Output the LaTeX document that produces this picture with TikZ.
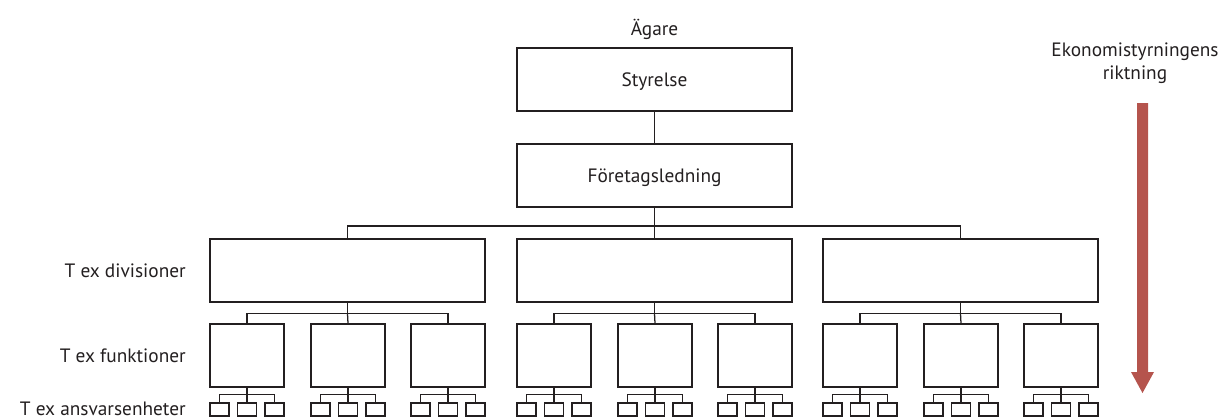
\documentclass[tikz,border=0pt]{standalone}
\usepackage{fontspec}
\setmainfont{PT Sans}
\usetikzlibrary{calc}
\definecolor{arrowred}{HTML}{B5544D}
\definecolor{ink}{HTML}{231F20}
\tikzset{
  lbl/.style={font=\fontsize{14.5pt}{17pt}\selectfont, text=ink, inner sep=0pt},
  bigbox/.style={draw=ink, line width=0.95pt, minimum width=206.25pt, minimum height=47.25pt, inner sep=0pt, text depth=0pt, font=\fontsize{14.5pt}{17pt}\selectfont, text=ink},
  funcbox/.style={draw=ink, line width=0.95pt, minimum width=55.5pt, minimum height=47.25pt, inner sep=0pt},
  smallbox/.style={draw=ink, line width=0.95pt, minimum width=14.25pt, minimum height=9.75pt, inner sep=0pt},
  conn/.style={draw=ink, line width=0.95pt}
}
\begin{document}
\begin{tikzpicture}[x=0.75pt, y=-0.75pt]
\useasboundingbox (0,0) rectangle (1231,419);
% top
\node[lbl] (agare) at (654.5,29) {Ägare};
\node[bigbox] (sty) at (654.5,79.5) {Styrelse};
\node[bigbox] (ftl) at (654.5,175.5) {Företagsledning};
\draw[conn] (sty.south) -- (ftl.north);
% divisions
\foreach \i/\x in {1/347.5, 2/654.5, 3/960.5} {
  \node[bigbox] (d\i) at (\x,270.5) {};
  \foreach \j/\o in {1/-100.5, 2/0.5, 3/100.5} {
    \node[funcbox] (f\i\j) at (\x+\o,355.5) {};
    \foreach \k/\p in {1/-27.5, 2/0, 3/27.5} {
      \node[smallbox] (s\i\j\k) at (\x+\o+\p,409.5) {};
    }
    \coordinate (fb\i\j) at ($(f\i\j.south)+(0,7)$);
    \draw[conn] (f\i\j.south) -- (fb\i\j);
    \draw[conn] (s\i\j1.north) |- (s\i\j3.north |- fb\i\j) -- (s\i\j3.north);
    \draw[conn] (fb\i\j) -- (s\i\j2.north);
  }
  \coordinate (db\i) at ($(d\i.south)+(0,11)$);
  \draw[conn] (d\i.south) -- (db\i);
  \draw[conn] (f\i1.north) |- (f\i3.north |- db\i) -- (f\i3.north);
  \draw[conn] (db\i) -- (f\i2.north);
}
\coordinate (top) at (654.5,226);
\draw[conn] (ftl.south) -- (d2.north);
\draw[conn] (d1.north) |- (d3.north |- top) -- (d3.north);
% labels
\node[lbl, anchor=east] (ldiv) at (186,271) {T ex divisioner};
\node[lbl, anchor=east] (lfun) at (186,356) {T ex funktioner};
\node[lbl, anchor=east] (lans) at (186,409) {T ex ansvarsenheter};
\node[lbl, align=center] (eko) at (1135,63) {Ekonomistyrningens\\riktning};
% arrow
\fill[arrowred] (1137,103) -- (1148,103) -- (1148,372) -- (1154,372) -- (1142.5,393) -- (1131,372) -- (1137,372) -- cycle;
\end{tikzpicture}
\end{document}
